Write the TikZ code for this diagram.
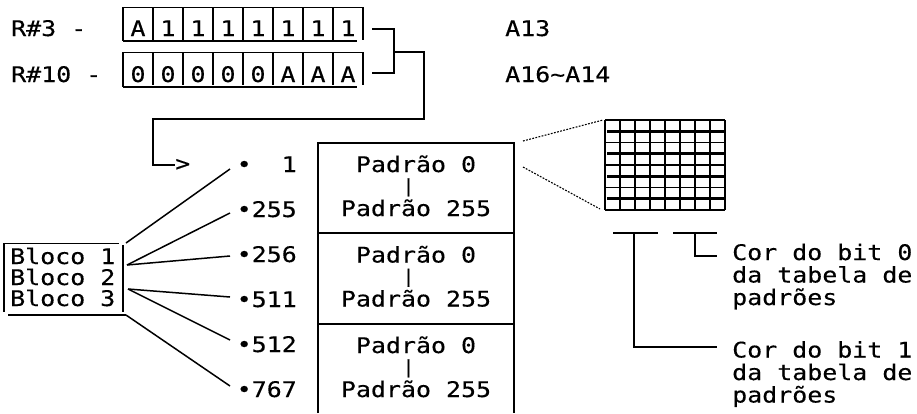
\documentclass[tikz,border=0pt]{standalone}
\usepackage{fontspec}
\newfontfamily\mono[FakeStretch=1.16,FakeBold=0.3]{DejaVu Sans Mono}
\begin{document}
\begin{tikzpicture}[x=1pt,y=-1pt,
 txt/.style={font=\mono\fontsize{21.5}{22.5}\selectfont, inner sep=0pt, anchor=base west},
 ctr/.style={font=\mono\fontsize{21.5}{22.5}\selectfont, inner sep=0pt, anchor=base},
 barst/.style={font=\mono\fontsize{18}{22.5}\selectfont, inner sep=0pt, anchor=base},
 ln/.style={line width=1.5pt},
 thk/.style={line width=2.2pt},
 thn/.style={line width=1pt},
 gridv/.style={line width=1.8pt},
 gridh/.style={line width=1.4pt},
 gridk/.style={line width=2.6pt},
 dots/.style={line width=1.1pt, dash pattern=on 1.8pt off 1.4pt}]
\useasboundingbox (0,0) rectangle (917,413);

% register labels
\node[txt] (r3) at (11,36) {R\#3~-};
\node[txt] (r10) at (11,82) {R\#10~-};
\node[txt] (a13) at (505,36) {A13};
\node[txt] (a16) at (505,82) {A16\textasciitilde A14};

% register cells
\foreach \t [count=\i from 0] in {A,1,1,1,1,1,1,1}
  \node[ctr] (ra\i) at (138+30*\i,36) {\t};
\foreach \t [count=\i from 0] in {0,0,0,0,0,A,A,A}
  \node[ctr] (rb\i) at (138+30*\i,82) {\t};
\draw[thn] (123,7) -- (363,7);
\foreach \i in {1,...,8} \draw[ln] (123+30*\i,7) -- (123+30*\i,40);
\draw[ln] (123,7) -- (123,41);
\draw[thk] (123,41) -- (357,41);
\draw[thn] (123,52) -- (363,52);
\foreach \i in {1,...,8} \draw[ln] (123+30*\i,52) -- (123+30*\i,85);
\draw[ln] (123,52) -- (123,87);
\draw[thk] (123,87) -- (357,87);

% bracket connector
\coordinate (b3) at (372,29);
\coordinate (b10) at (372,73);
\coordinate (j) at (394,52);
\node[txt] (gt) at (175,171) {>};
\draw[ln] (b3) -- (394,29) -- (394,73) -- (b10);
\draw[ln] (j) -- (424,52) -- (424,119) -- (153,119) |- (gt.west);

% address bullets
\node[txt] (p1) at (236.5,172) {•~~1};
\node[txt] (p2) at (236.5,217) {•255};
\node[txt] (p3) at (236.5,262) {•256};
\node[txt] (p4) at (236.5,307) {•511};
\node[txt] (p5) at (236.5,352) {•512};
\node[txt] (p6) at (236.5,397) {•767};

% pattern table
\draw[ln] (318,413) -- (318,143) -- (514,143) -- (514,413);
\draw[ln] (318,233) -- (514,233);
\draw[ln] (318,324) -- (514,324);
\foreach \k/\dy in {1/0,2/90.5,3/181}{
  \node[ctr] (pa\k) at (416,172+\dy) {Padrão 0};
  \node[barst] (bar\k) at (408.5,192+\dy) {|};
  \node[ctr] (pb\k) at (416,216+\dy) {Padrão 255};
}

% bloco box
\node[txt] (bl1) at (10,264) {Bloco 1};
\node[txt] (bl2) at (10,285) {Bloco 2};
\node[txt] (bl3) at (10,306) {Bloco 3};
\draw[thn] (3,243) -- (119,243);
\draw[ln] (4,243) -- (4,312);
\draw[ln] (123,245) -- (123,312);
\draw[thk] (8,315) -- (126,315);

% fan lines
\coordinate (s1) at (126,243);
\coordinate (s2) at (127,265);
\coordinate (s3) at (128,289);
\coordinate (s4) at (126,315);
\coordinate (f1) at (230,169);
\coordinate (f2) at (230,213);
\coordinate (f3) at (230,256);
\coordinate (f4) at (230,297);
\coordinate (f5) at (230,340);
\coordinate (f6) at (230,386);
\draw[ln] (s1) -- (f1);
\draw[ln] (s2) -- (f2);
\draw[ln] (s2) -- (f3);
\draw[ln] (s3) -- (f4);
\draw[ln] (s3) -- (f5);
\draw[ln] (s4) -- (f6);

% pattern grid
\foreach \i in {0,...,8} \draw[gridv] (605+15*\i,120) -- (605+15*\i,210);
\foreach \j in {0,...,4} \draw[gridh] (605,120+22.5*\j) -- (725,120+22.5*\j);
\foreach \j in {0,...,3} \draw[gridk] (607,131.25+22.5*\j) -- (725,131.25+22.5*\j);
\draw[dots] (523,141) -- (603,120);
\draw[dots] (523,167) -- (600,209);

% bit colour legend
\draw[ln] (613,233) -- (658,233);
\draw[ln] (673,233) -- (717,233);
\coordinate (c0) at (717,256);
\coordinate (c1) at (717,347);
\draw[ln] (695,233) |- (c0);
\draw[ln] (634,233) |- (c1);
\node[txt] (cor0a) at (732,260) {Cor do bit 0};
\node[txt] (cor0b) at (732,282.5) {da tabela de};
\node[txt] (cor0c) at (732,305) {padrões};
\node[txt] (cor1a) at (732,357.5) {Cor do bit 1};
\node[txt] (cor1b) at (732,380) {da tabela de};
\node[txt] (cor1c) at (732,402.5) {padrões};
\end{tikzpicture}
\end{document}
